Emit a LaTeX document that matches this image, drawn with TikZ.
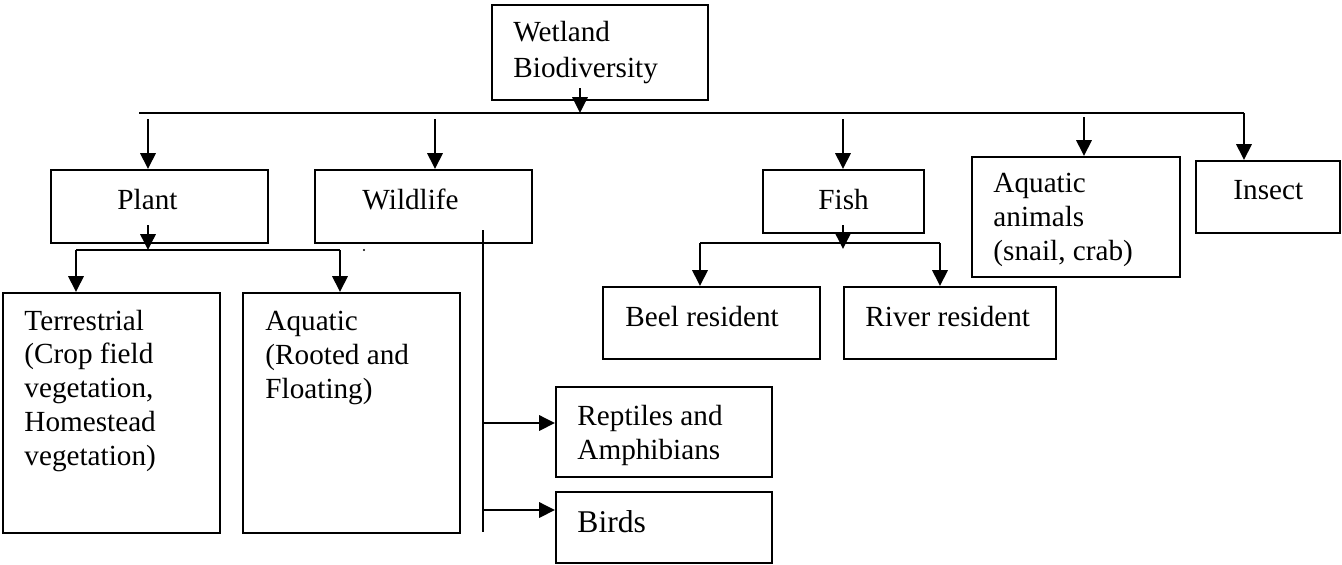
\documentclass[tikz,border=0pt]{standalone}
\usepackage{fontspec}
\setmainfont{Liberation Serif}
\usetikzlibrary{arrows.meta,fit}

\begin{document}
\begin{tikzpicture}[
  x=0.411pt, y=-0.411pt,
  box/.style={draw, line width=0.8pt, inner sep=0pt, rectangle},
  lbl/.style={anchor=base west, inner sep=0pt, align=left,
              font=\fontsize{12}{13.85}\selectfont},
  link/.style={line width=0.8pt},
  arr/.style={line width=1.1pt, -{Triangle[length=6.5pt,width=6.2pt]}}
]
\useasboundingbox (0,0) rectangle (1342,564);

% boxes
\node[box, fit={(492,5) (708,100)}]    (root) {};
\node[box, fit={(51,170) (268,243)}]   (plant) {};
\node[box, fit={(315,170) (532,243)}]  (wild) {};
\node[box, fit={(763,170) (924,233)}]  (fish) {};
\node[box, fit={(972,157) (1180,277)}] (aqan) {};
\node[box, fit={(1196,161) (1340,233)}] (insect) {};
\node[box, fit={(3,293) (220,533)}]    (terr) {};
\node[box, fit={(243,293) (460,533)}]  (aqua) {};
\node[box, fit={(603,287) (820,359)}]  (beel) {};
\node[box, fit={(844,287) (1056,359)}] (river) {};
\node[box, fit={(556,387) (772,477)}]  (rept) {};
\node[box, fit={(556,492) (772,563)}]  (birds) {};

% texts (multi-line labels are placed by the baseline of their last line)
\node[lbl, font=\fontsize{12}{14.4}\selectfont] (t-root) at (513,77) {Wetland\\Biodiversity};
\node[lbl] (t-plant) at (117,209) {Plant};
\node[lbl] (t-wild) at (362,209) {Wildlife};
\node[lbl] (t-fish) at (818,209) {Fish};
\node[lbl] (t-aqan) at (993,260) {Aquatic\\animals\\(snail, crab)};
\node[lbl] (t-insect) at (1233,199) {Insect};
\node[lbl] (t-terr) at (24,465) {Terrestrial\\(Crop field\\vegetation,\\Homestead\\vegetation)};
\node[lbl] (t-aqua) at (265,398) {Aquatic\\(Rooted and\\Floating)};
\node[lbl] (t-beel) at (625,326) {Beel resident};
\node[lbl] (t-river) at (865,326) {River resident};
\node[lbl] (t-rept) at (577,459) {Reptiles and\\Amphibians};
\node[lbl, font=\fontsize{13}{15}\selectfont] (t-birds) at (577,532) {Birds};
\fill (364,250) circle (1.2);

% main bus under the root
\coordinate (busL) at (139,113);
\coordinate (busR) at (1244,113);
\coordinate (r0) at (580,88);
\draw[link] (busL) -- (busR);
\draw[arr] (r0) -- (r0 |- busL);
\draw[arr] (busR) -- (busR |- insect.north);

% drops from the bus
\coordinate (p0) at (148,119);
\coordinate (w0) at (435,119);
\coordinate (f0) at (843,119);
\coordinate (a0) at (1084,117);
\draw[arr] (p0) -- (p0 |- plant.north);
\draw[arr] (w0) -- (w0 |- wild.north);
\draw[arr] (f0) -- (f0 |- fish.north);
\draw[arr] (a0) -- (a0 |- aqan.north);

% plant branch
\coordinate (p1) at (148,225);
\coordinate (pL) at (76,250);
\coordinate (pR) at (340,250);
\draw[arr] (p1) -- (p1 |- pL);
\draw[link] (pL) -- (pR);
\draw[arr] (pL) -- (pL |- terr.north);
\draw[arr] (pR) -- (pR |- aqua.north);

% fish branch
\coordinate (f1) at (843,225);
\coordinate (fL) at (700,243);
\coordinate (fR) at (940,243);
\draw[link] (fL) -- (fR);
\draw[arr] (f1) -- (843,249);
\draw[arr] (fL) -- (fL |- beel.north);
\draw[arr] (fR) -- (fR |- river.north);

% wildlife branch
\coordinate (wT) at (483,230);
\coordinate (wB) at (483,532);
\coordinate (w1) at (483,423);
\coordinate (w2) at (483,510);
\draw[link] (wT) -- (wB);
\draw[arr] (w1) -- (w1 -| rept.west);
\draw[arr] (w2) -- (w2 -| birds.west);
\end{tikzpicture}
\end{document}
